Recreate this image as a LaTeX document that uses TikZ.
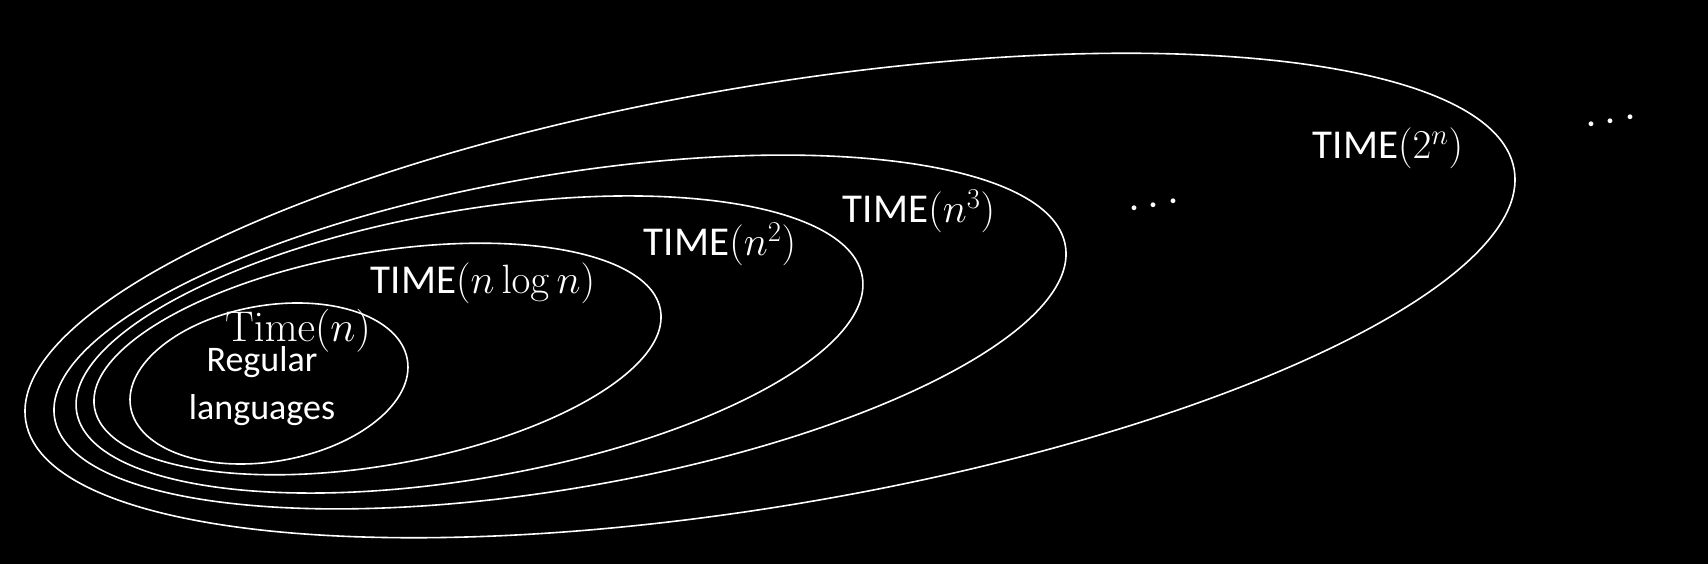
\documentclass[tikz,border=0pt]{standalone}
\usepackage{fix-cm}
\usepackage[no-math]{fontspec}
\setmainfont{Carlito}
\begin{document}
\begin{tikzpicture}[x=1pt, y=1pt,
		classline/.style={draw=white, line width=1.6pt},
		classname/.style={text=white, inner sep=0pt, font=\fontsize{41}{48}\selectfont},
		moredots/.style={text=white, inner sep=0pt, rotate=11, font=\fontsize{45}{48}\selectfont}]
	\fill[black] (0,0) rectangle (1708,564);
	\useasboundingbox (0,0) rectangle (1708,564);
	% nested classes, innermost first
	\draw[classline, rotate around={9.8:(269,180.5)}] (269,180.5) ellipse [x radius=140.4pt, y radius=78pt];
	\draw[classline, rotate around={9.8:(377.5,205)}] (377.5,205) ellipse [x radius=287.2pt, y radius=106.5pt];
	\draw[classline, rotate around={9.8:(469.5,219.5)}] (469.5,219.5) ellipse [x radius=398.6pt, y radius=134.1pt];
	\draw[classline, rotate around={9.7:(560,232)}] (560,232) ellipse [x radius=512.7pt, y radius=156.6pt];
	\draw[classline, rotate around={9.6:(770,268.5)}] (770,268.5) ellipse [x radius=754.8pt, y radius=209.9pt];
	% names
	\node[classname, anchor=base, font=\fontsize{43}{48}\selectfont](timen) at (298,222) {$\mathrm{Time}(n)$};
	\node[classname, anchor=base, align=center, font=\fontsize{36}{48}\selectfont](regular) at (262,144) {Regular\\languages};
	\node[classname, anchor=base](nlogn) at (483,270) {TIME$(n\log n)$};
	\node[classname, anchor=base](nsq) at (720,308) {TIME$(n^2)$};
	\node[classname, anchor=base](ncube) at (919,341) {TIME$(n^3)$};
	\node[classname, anchor=base](expn) at (1388,405) {TIME$(2^n)$};
	\node[moredots](dotsa) at (1154,358) {$\cdots$};
	\node[moredots](dotsb) at (1611,442) {$\cdots$};
\end{tikzpicture}
\end{document}
